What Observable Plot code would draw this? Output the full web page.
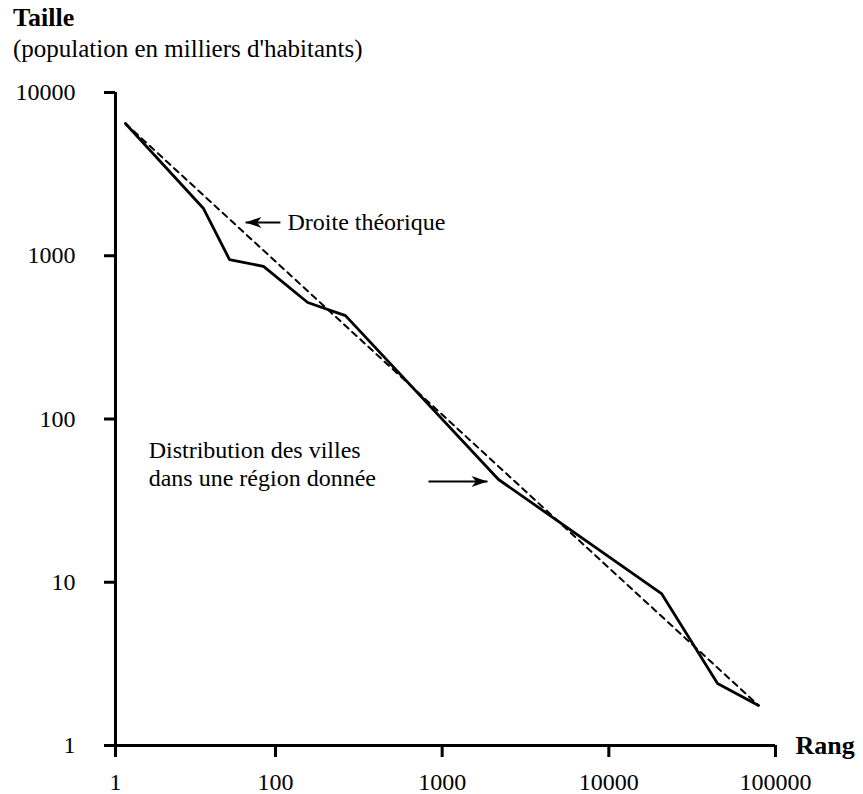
<!DOCTYPE html>
<html>
<head>
<meta charset="utf-8">
<script src="https://cdn.jsdelivr.net/npm/d3@7"></script>
<script src="https://cdn.jsdelivr.net/npm/@observablehq/plot@0.6"></script>
<style>
  html, body { margin: 0; padding: 0; background: #fff; }
  #wrap { width: 863px; font-family: "Liberation Serif", "Times New Roman", Times, serif; color: #000; }
  #head { position: relative; height: 70px; }
  #title { position: absolute; left: 13px; top: 5px; font-size: 26px; font-weight: bold; line-height: 1; }
  #subtitle { position: absolute; left: 13px; top: 36px; font-size: 25px; line-height: 1; }
</style>
</head>
<body>
<div id="wrap">
  <div id="head">
    <div id="title">Taille</div>
    <div id="subtitle">(population en milliers d'habitants)</div>
  </div>
  <div id="chart"></div>
</div>
<script>
// Observed distribution (rank, size in thousands)
const cityRank = [1.33, 12.6, 26.6, 70.8, 156, 263, 2178, 20700, 44900, 79100];
const citySize = [6460, 1947, 948, 860, 517, 430, 42.6, 8.53, 2.40, 1.76];

// Theoretical line (endpoints)
const theoryRank = [1.33, 79100];
const theorySize = [6460, 1.76];

// Axis ticks
const xTicks = [1, 100, 1000, 10000, 100000];
const yTicks = [1, 10, 100, 1000, 10000];

// Annotations
const labelTheory = "Droite théorique";
const labelDistrib = ["Distribution des villes", "dans une région donnée"];

const city = cityRank.map((r, i) => ({rank: r, size: citySize[i]}));
const theory = theoryRank.map((r, i) => ({rank: r, size: theorySize[i]}));

const arrowHead = {
  draw(ctx, size) {
    ctx.moveTo(0, 0);
    ctx.lineTo(-16, -5.5);
    ctx.lineTo(-11.5, 0);
    ctx.lineTo(-16, 5.5);
    ctx.closePath();
  }
};

const annotArrows = [
  {x1: 107, x2: 42.2, y: 1600, rot: 180},
  {x1: 828, x2: 1871, y: 41.4, rot: 0}
];
const annotTexts = [
  {x: 118, y: 1600, t: labelTheory},
  {x: 2.6, y: 64.1, t: labelDistrib[0]},
  {x: 2.6, y: 43.2, t: labelDistrib[1]}
];

const chart = Plot.plot({
  width: 863,
  height: 724,
  marginLeft: 115,
  marginRight: 88,
  marginTop: 22,
  marginBottom: 49,
  style: {background: "white", fontFamily: "'Liberation Serif', 'Times New Roman', Times, serif", color: "black", overflow: "visible"},
  x: {type: "log", domain: [1, 100, 100000], range: [115, 275, 775]},
  y: {type: "log", domain: [1, 10000]},
  marks: [
    Plot.axisY({ticks: yTicks, tickFormat: d => String(d), tickSize: 11, tickPadding: 29, strokeWidth: 3, fontSize: 24, label: null}),
    Plot.axisX({ticks: xTicks, tickFormat: d => String(d), tickSize: 12, tickPadding: 15, strokeWidth: 3, fontSize: 24, label: null}),
    Plot.ruleX([1], {strokeWidth: 3}),
    Plot.ruleY([1], {strokeWidth: 3}),
    Plot.line(theory, {x: "rank", y: "size", stroke: "black", strokeWidth: 2, strokeDasharray: "6,5"}),
    Plot.line(city, {x: "rank", y: "size", stroke: "black", strokeWidth: 2.8, strokeLinejoin: "miter"}),
    Plot.link(annotArrows, {x1: "x1", x2: "x2", y1: "y", y2: "y", stroke: "black", strokeWidth: 2}),
    Plot.dot(annotArrows, {x: "x2", y: "y", symbol: arrowHead, r: 5, fill: "black", stroke: "none", rotate: "rot"}),
    Plot.text(annotTexts, {x: "x", y: "y", text: "t", textAnchor: "start", lineAnchor: "middle", fontSize: 24, fill: "black"}),
    Plot.text(["Rang"], {frameAnchor: "bottom-right", dx: 20, textAnchor: "start", lineAnchor: "middle", fontSize: 26, fontWeight: "bold", fill: "black"})
  ]
});
document.getElementById("chart").appendChild(chart);
</script>
</body>
</html>
